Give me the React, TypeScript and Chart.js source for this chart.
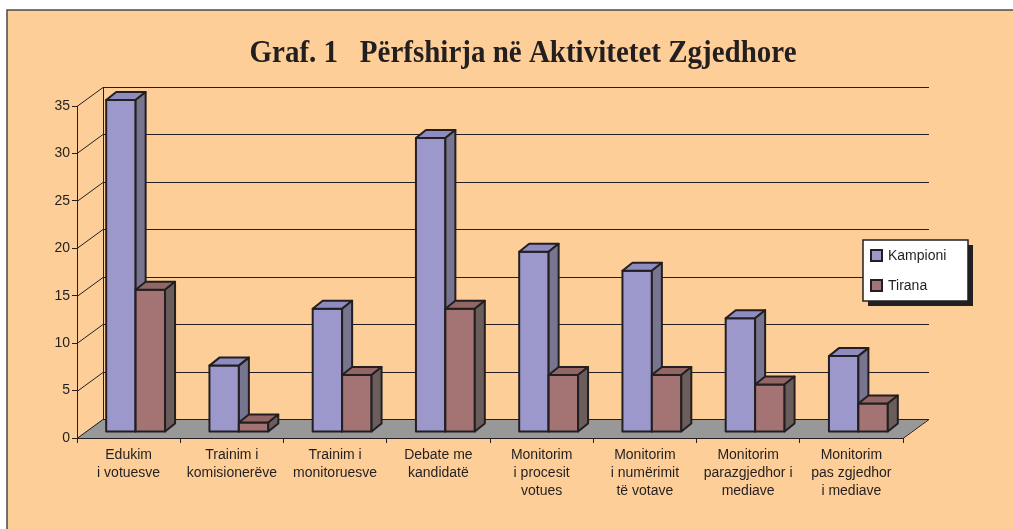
import React, { useEffect, useRef } from "react";
import { Chart, registerables } from "chart.js";

Chart.register(...registerables);

const TITLE = "Graf. 1   Përfshirja në Aktivitetet Zgjedhore";
const categories: string[][] = [
  ["Edukim", "i votuesve"],
  ["Trainim i", "komisionerëve"],
  ["Trainim i", "monitoruesve"],
  ["Debate me", "kandidatë"],
  ["Monitorim", "i procesit", "votues"],
  ["Monitorim", "i numërimit", "të votave"],
  ["Monitorim", "parazgjedhor i", "mediave"],
  ["Monitorim", "pas zgjedhor", "i mediave"],
];
const seriesNames = ["Kampioni", "Tirana"];
const kampioni = [35, 7, 13, 31, 19, 17, 12, 8];
const tirana = [15, 1, 6, 13, 6, 6, 5, 3];
const yMax = 35;
const yStep = 5;

const INK = "#231F20";
const BG = "#FDCE98";
const FACE = [
  { front: "#9C98CC", top: "#8E8BC0", side: "#77758F" },
  { front: "#A47474", top: "#936666", side: "#6C5D5D" },
];

const plugin3d = {
  id: "plugin3d",
  beforeDraw(chart: any) {
    const { ctx, width, height } = chart;
    ctx.save();
    ctx.fillStyle = "#FFFFFF";
    ctx.fillRect(0, 0, width, height);
    ctx.fillStyle = BG;
    ctx.fillRect(7, 10, width - 7, height - 10);
    ctx.strokeStyle = "#4A4A4A";
    ctx.lineWidth = 1.5;
    ctx.beginPath();
    ctx.moveTo(7, height);
    ctx.lineTo(7, 10);
    ctx.lineTo(width, 10);
    ctx.stroke();
    ctx.restore();
  },
  beforeDatasetsDraw(chart: any) {
    const { ctx, chartArea } = chart;
    const { left, right, top, bottom } = chartArea;
    const yScale = chart.scales.y;
    const DX = 26;
    const DY = -19;
    ctx.save();
    // floor
    ctx.fillStyle = "#989898";
    ctx.beginPath();
    ctx.moveTo(left, bottom);
    ctx.lineTo(right, bottom);
    ctx.lineTo(right + DX, bottom + DY);
    ctx.lineTo(left + DX, bottom + DY);
    ctx.closePath();
    ctx.fill();
    // grid on walls
    ctx.strokeStyle = INK;
    ctx.lineWidth = 1;
    yScale.ticks.forEach((t: any) => {
      const py = Math.round(yScale.getPixelForValue(t.value)) + 0.5;
      ctx.beginPath();
      ctx.moveTo(left, py);
      ctx.lineTo(left + DX, py + DY);
      ctx.lineTo(right + DX, py + DY);
      ctx.stroke();
    });
    // back-left vertical edge
    ctx.beginPath();
    ctx.moveTo(left + DX + 0.5, top + DY);
    ctx.lineTo(left + DX + 0.5, bottom + DY);
    ctx.stroke();
    // floor right edge + front edge
    ctx.beginPath();
    ctx.moveTo(left, bottom + 0.5);
    ctx.lineTo(right, bottom + 0.5);
    ctx.lineTo(right + DX, bottom + DY + 0.5);
    ctx.stroke();

    // bars
    const ox = 7;
    const oy = -6;
    const bdx = 10;
    const bdy = -8;
    ctx.lineWidth = 2;
    ctx.lineJoin = "round";
    ctx.strokeStyle = INK;
    const n = chart.data.labels.length;
    for (let i = 0; i < n; i++) {
      for (let d = 0; d < chart.data.datasets.length; d++) {
        const el = chart.getDatasetMeta(d).data[i];
        const x0 = el.x - el.width / 2 + ox;
        const x1 = el.x + el.width / 2 + ox;
        const yt = el.y + oy;
        const yb = el.base + oy;
        const c = FACE[d];
        // front
        ctx.fillStyle = c.front;
        ctx.beginPath();
        ctx.rect(x0, yt, x1 - x0, yb - yt);
        ctx.fill();
        ctx.stroke();
        // top
        ctx.fillStyle = c.top;
        ctx.beginPath();
        ctx.moveTo(x0, yt);
        ctx.lineTo(x0 + bdx, yt + bdy);
        ctx.lineTo(x1 + bdx, yt + bdy);
        ctx.lineTo(x1, yt);
        ctx.closePath();
        ctx.fill();
        ctx.stroke();
        // side
        ctx.fillStyle = c.side;
        ctx.beginPath();
        ctx.moveTo(x1, yt);
        ctx.lineTo(x1 + bdx, yt + bdy);
        ctx.lineTo(x1 + bdx, yb + bdy);
        ctx.lineTo(x1, yb);
        ctx.closePath();
        ctx.fill();
        ctx.stroke();
      }
    }
    ctx.restore();
    return false;
  },
  afterDraw(chart: any) {
    const { ctx } = chart;
    ctx.save();
    // title
    ctx.font = 'bold 31px "Liberation Serif"';
    ctx.fillStyle = INK;
    ctx.textBaseline = "alphabetic";
    ctx.textAlign = "left";
    const w = ctx.measureText(TITLE).width;
    const target = 547;
    const sx = target / w;
    ctx.translate(523 - target / 2, 62);
    ctx.scale(sx, 1);
    ctx.fillText(TITLE, 0, 0);
    ctx.restore();

    // legend
    ctx.save();
    const bx = 863, by = 240, bw = 105, bh = 61;
    ctx.fillStyle = INK;
    ctx.fillRect(bx + 5, by + 5, bw, bh);
    ctx.fillStyle = "#FFFFFF";
    ctx.fillRect(bx, by, bw, bh);
    ctx.strokeStyle = INK;
    ctx.lineWidth = 1.5;
    ctx.strokeRect(bx, by, bw, bh);
    ctx.font = '14px "Liberation Sans"';
    ctx.textBaseline = "middle";
    ctx.textAlign = "left";
    chart.data.datasets.forEach((ds: any, i: number) => {
      const sy = by + 10 + i * 30;
      ctx.fillStyle = FACE[i].front;
      ctx.fillRect(bx + 8, sy, 11, 11);
      ctx.lineWidth = 2;
      ctx.strokeRect(bx + 8, sy, 11, 11);
      ctx.fillStyle = INK;
      ctx.fillText(ds.label, bx + 25, sy + 6);
    });
    ctx.restore();
  },
};

export default function App() {
  const ref = useRef<HTMLCanvasElement | null>(null);
  useEffect(() => {
    document.body.style.margin = "0";
    const canvas = ref.current;
    if (!canvas) return;
    const chart = new Chart(canvas, {
      type: "bar",
      data: {
        labels: categories,
        datasets: [
          { label: seriesNames[0], data: kampioni, backgroundColor: FACE[0].front },
          { label: seriesNames[1], data: tirana, backgroundColor: FACE[1].front },
        ],
      },
      options: {
        animation: false,
        responsive: false,
        maintainAspectRatio: false,
        layout: { padding: { left: 0, right: 110, top: 106, bottom: 0 } },
        plugins: {
          legend: { display: false },
          title: { display: false },
          tooltip: { enabled: false },
        },
        datasets: { bar: { categoryPercentage: 0.57, barPercentage: 1 } },
        scales: {
          x: {
            afterFit: (s: any) => { s.height = 91; },
            grid: { display: true, drawOnChartArea: false, drawTicks: true, tickLength: 5, color: INK, offset: true },
            border: { display: true, color: INK },
            ticks: {
              color: INK,
              font: { family: "Liberation Sans", size: 14, lineHeight: 1.3 },
              padding: 3,
              maxRotation: 0,
              minRotation: 0,
              autoSkip: false,
            },
          },
          y: {
            min: 0,
            max: yMax,
            afterFit: (s: any) => { s.width = 77; },
            grid: { display: true, drawOnChartArea: false, drawTicks: true, tickLength: 5, color: INK },
            border: { display: true, color: INK },
            ticks: {
              stepSize: yStep,
              color: INK,
              font: { family: "Liberation Sans", size: 14 },
              padding: 2,
            },
          },
        },
      },
      plugins: [plugin3d],
    } as any);
    return () => chart.destroy();
  }, []);
  return (
    <div style={{ width: 1013, height: 529, position: "relative" }}>
      <canvas ref={ref} width={1013} height={529} style={{ display: "block", width: 1013, height: 529 }} />
    </div>
  );
}
